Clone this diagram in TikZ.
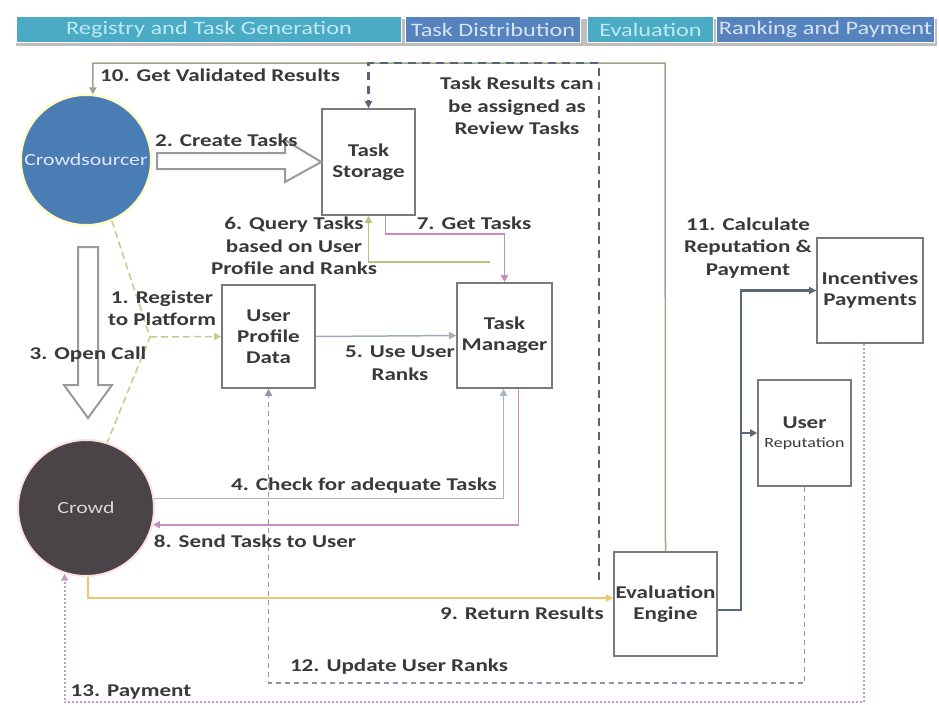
\documentclass[tikz,border=0pt]{standalone}
\usepackage{fontspec}
\setmainfont{Carlito}[FakeStretch=1.28]
\usetikzlibrary{arrows.meta,calc}
\definecolor{txt}{HTML}{3A3A3A}
\definecolor{boxgray}{HTML}{7A7A7A}
\definecolor{teal}{HTML}{4BABC5}
\definecolor{hblue}{HTML}{5683BE}
\definecolor{tealtxt}{HTML}{BDEAF5}
\definecolor{bluetxt}{HTML}{D6E3F5}
\definecolor{csblue}{HTML}{4A7DB3}
\definecolor{crowdgray}{HTML}{4A4347}
\definecolor{cten}{HTML}{9AA58A}
\definecolor{crev}{HTML}{55657B}
\definecolor{creg}{HTML}{C6CA8C}
\definecolor{cfour}{HTML}{A6B6C6}
\definecolor{ceight}{HTML}{C88EC0}
\definecolor{cnine}{HTML}{F2C46E}
\definecolor{ctwelve}{HTML}{8A96A6}
\definecolor{cthirteen}{HTML}{C89AC8}
\definecolor{cfive}{HTML}{A0AEC0}
\definecolor{csix}{HTML}{BFC07A}
\definecolor{celeven}{HTML}{5A6878}
\definecolor{blockgray}{HTML}{9A9A9A}
\tikzset{
  tip/.style={-{Triangle[length=7pt,width=7pt]}},
  box/.style={draw=boxgray, line width=1.6pt, fill=white, text=txt,
    font=\bfseries\fontsize{18}{21}\selectfont, align=center, inner sep=0pt},
  lbl/.style={text=txt, font=\bfseries\fontsize{18}{22.5}\selectfont, align=center, inner sep=0pt},
  hdr/.style={draw=white, line width=1pt, font=\fontsize{19}{22}\selectfont, inner sep=0pt, anchor=north west},
  blockarrow/.style={draw=blockgray, line width=2pt, fill=white, line join=miter}
}
\begin{document}
\begin{tikzpicture}[x=1pt,y=-1pt]
\useasboundingbox (0,0) rectangle (939,704);
\fill[white] (0,0) rectangle (939,704);

% header
\fill[black!25] (16,19) rectangle (937,46);
\node[hdr, fill=teal, text=tealtxt, minimum width=385, minimum height=26] (h1) at (16,16) {Registry and Task Generation};
\node[hdr, fill=hblue, text=bluetxt, minimum width=175, minimum height=26] (h2) at (405,16) {Task Distribution};
\node[hdr, fill=teal, text=tealtxt, minimum width=126, minimum height=26] (h3) at (587,16) {Evaluation};
\node[hdr, fill=hblue, text=bluetxt, minimum width=218, minimum height=26] (h4) at (716,16) {Ranking and Payment};

% actors
\node[circle, fill=csblue, draw=yellow!25, line width=2pt, minimum size=130, inner sep=0pt,
  text=blue!10, font=\fontsize{17}{20}\selectfont] (cs) at (86,160) {Crowdsourcer};
\node[circle, fill=crowdgray, draw=red!12, line width=2pt, minimum size=136, inner sep=0pt,
  text=white!85!black, font=\fontsize{17}{20}\selectfont] (crowd) at (86,508) {Crowd};

% boxes
\node[box, minimum width=93, minimum height=106] (storage) at (368.5,162) {Task\\Storage};
\node[box, minimum width=93, minimum height=103] (profile) at (268.5,336.5) {User\\Profile\\Data};
\node[box, minimum width=95, minimum height=105] (manager) at (504.5,335.5) {Task\\Manager};
\node[box, minimum width=106, minimum height=105] (incent) at (870,290.5) {Incentives\\Payments};
\node[box, minimum width=93, minimum height=106] (rep) at (804.5,433) {User\\[-2pt]{\mdseries\fontsize{14}{16}\selectfont Reputation}};
\node[box, minimum width=103, minimum height=104] (eval) at (665.5,604) {Evaluation\\Engine};

% block arrows
\draw[blockarrow] (157,153) -- (285,153) -- (285,140) -- (storage.west) -- (285,182) -- (285,169) -- (157,169) -- cycle;
\draw[blockarrow] (78,247) -- (98,247) -- (98,385) -- (112,385) -- (88,418) -- (64,385) -- (78,385) -- cycle;

% 10
\coordinate (t10) at (665,63);
\draw[cten, line width=1.5pt, tip] (eval.north) -- (t10) -| (cs.84);
% review tasks dashed
\coordinate (rv1) at (599,580);
\coordinate (rv2) at (599,63);
\draw[crev, line width=2.2pt, dash pattern=on 8pt off 6pt, tip] (rv1) -- (rv2) -| (storage.north);
% 1 register
\coordinate (rj) at (150,337);
\draw[creg, line width=1.5pt, dash pattern=on 7pt off 4pt] (cs.-67) -- (rj) -- (crowd.72);
\draw[creg, line width=1.5pt, dash pattern=on 7pt off 4pt, tip] (rj) -- (profile.west);
% 5
\draw[cfive, line width=1.5pt, tip] (profile.east) -- (manager.west);
% 6
\coordinate (q6) at (490,262);
\draw[csix, line width=1.5pt, tip] (q6) -| (storage.south);
% 7
\draw[ceight, line width=1.5pt, tip] ($(storage.south)+(17,0)$) -- ++(0,18) -| (manager.north);
% 4
\draw[cfour, line width=1.8pt, tip] (crowd.8) -| ($(manager.south)+(-1,0)$);
% 8
\draw[ceight, line width=1.8pt, tip] ($(manager.south)+(14,0)$) |- (crowd.-14);
% 9
\draw[cnine, line width=2pt, tip] ($(crowd.south)+(2,0)$) |- ($(eval.west)+(0,-6)$);
% 11
\coordinate (k11) at (741,610);
\draw[celeven, line width=2.5pt, tip] ($(eval.east)+(0,6)$) -- (k11) |- (incent.west);
\draw[celeven, line width=2.5pt, tip] (k11 |- rep.west) -- (rep.west);
% 12
\coordinate (u12) at (804.5,683);
\draw[ctwelve, line width=1.5pt, dash pattern=on 5pt off 4pt, tip] (rep.south) -- (u12) -| (profile.south);
% 13
\coordinate (p13) at (864,702);
\draw[cthirteen, line width=2pt, dotted, tip] ($(incent.south)+(-6,0)$) -- (p13) -| (crowd.-108);

% labels
\node[lbl, anchor=west] (l10) at (100,75) {10. Get Validated Results};
\node[lbl] (lrev) at (517,106) {Task Results can\\be assigned as\\Review Tasks};
\node[lbl, anchor=west] (l2) at (155,140) {2. Create Tasks};
\node[lbl] (l6) at (294,246) {6. Query Tasks\\based on User\\Profile and Ranks};
\node[lbl] (l7) at (474,223) {7. Get Tasks};
\node[lbl] (l1) at (162,308) {1. Register\\to Platform};
\node[lbl] (l5) at (400,363) {5. Use User\\Ranks};
\node[lbl] (l3) at (88,355) {3. Open Call};
\node[lbl] (l4) at (364,486) {4. Check for adequate Tasks};
\node[lbl] (l8) at (255,541) {8. Send Tasks to User};
\node[lbl] (l9) at (522,613) {9. Return Results};
\node[lbl] (l12) at (399,667) {12. Update User Ranks};
\node[lbl] (l13) at (131,692) {13. Payment};
\node[lbl] (l11) at (748,248) {11. Calculate\\Reputation \&\\Payment};
\end{tikzpicture}
\end{document}
